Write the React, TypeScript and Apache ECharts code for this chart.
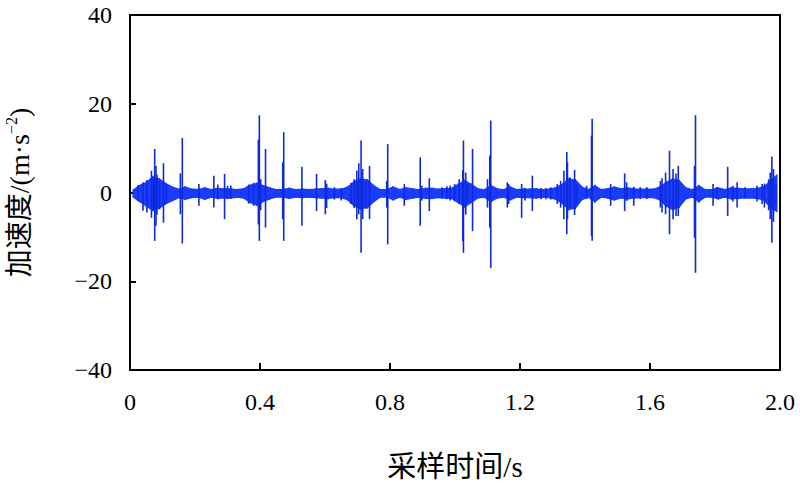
import React, { useEffect, useRef } from 'react';
import * as echarts from 'echarts';

// Envelope of the continuous background vibration, sampled every 0.02 s starting at 0.01 s
const ENV_START = 0.01;
const ENV_STEP = 0.02;
const envHigh = [
  0.5, 1.5, 2.2, 3.5, 3.0, 2.0, 1.2, 0.7, 1.2, 0.7,
  0.6, 1.0, 0.6, 0.9, 0.8, 0.8, 0.6, 0.8, 1.6, 2.0,
  1.5, 1.0, 0.6, 0.6, 0.9, 0.6, 0.7, 0.6, 0.7, 0.8,
  0.9, 0.7, 0.7, 1.2, 2.4, 3.0, 2.8, 1.5, 0.6, 0.6,
  1.2, 0.6, 1.0, 0.8, 0.6, 0.9, 0.9, 0.7, 0.8, 0.9,
  1.8, 2.6, 1.8, 0.8, 0.6, 1.5, 0.8, 0.6, 1.2, 0.6,
  0.7, 0.7, 0.8, 0.6, 0.7, 1.0, 1.8, 3.0, 2.8, 1.2,
  0.6, 1.5, 0.6, 0.8, 1.2, 0.8, 1.0, 0.8, 0.7, 0.7,
  0.7, 1.2, 2.2, 3.0, 2.6, 1.0, 0.6, 1.5, 0.6, 0.6,
  1.0, 0.6, 1.0, 0.9, 0.8, 0.8, 0.9, 1.2, 2.5, 3.8,
];
const envLow = [
  -1.0, -2.0, -3.0, -4.0, -3.5, -2.5, -1.8, -1.1, -1.5, -1.1,
  -1.0, -1.5, -1.0, -1.3, -1.2, -1.2, -1.0, -1.2, -2.2, -2.8,
  -2.0, -1.4, -1.0, -1.0, -1.3, -1.0, -1.1, -1.0, -1.1, -1.2,
  -1.3, -1.1, -1.1, -1.6, -3.0, -3.6, -3.4, -2.0, -1.0, -1.0,
  -1.6, -1.0, -1.5, -1.2, -1.0, -1.3, -1.3, -1.1, -1.2, -1.3,
  -2.2, -3.2, -2.2, -1.2, -1.0, -2.0, -1.2, -1.0, -1.6, -1.0,
  -1.1, -1.1, -1.2, -1.0, -1.1, -1.5, -2.4, -3.8, -3.5, -1.6,
  -1.0, -2.0, -1.0, -1.2, -1.6, -1.2, -1.4, -1.2, -1.1, -1.1,
  -1.1, -1.6, -3.0, -3.8, -3.2, -1.4, -1.0, -2.0, -1.0, -1.0,
  -1.4, -1.0, -1.4, -1.3, -1.2, -1.2, -1.3, -1.6, -3.2, -4.2,
];

// Individual impact spikes: time (s), positive peak, negative peak (m/s²)
const spikeTime = [
  0.025, 0.040, 0.052, 0.066, 0.072, 0.076, 0.080, 0.083, 0.091, 0.103, 0.112,
  0.155, 0.161, 0.212, 0.258, 0.270, 0.291, 0.300, 0.310,
  0.365, 0.380, 0.395, 0.398, 0.402, 0.417, 0.470, 0.473, 0.529, 0.574, 0.601, 0.605, 0.629, 0.650,
  0.680, 0.690, 0.698, 0.704, 0.711, 0.716, 0.726, 0.737, 0.790, 0.793, 0.844, 0.893, 0.898, 0.921,
  0.960, 0.975, 0.985, 0.999,
  1.013, 1.024, 1.026, 1.033, 1.040, 1.054, 1.100, 1.107, 1.110, 1.161, 1.165, 1.205, 1.215, 1.238,
  1.265, 1.280, 1.295, 1.315, 1.325, 1.335, 1.344,
  1.346, 1.354, 1.368, 1.376, 1.405, 1.420, 1.422, 1.479, 1.522, 1.528, 1.550, 1.570, 1.590,
  1.632, 1.637, 1.648, 1.660, 1.671, 1.680,
  1.687, 1.737, 1.740, 1.794, 1.805, 1.839, 1.855, 1.868, 1.893, 1.929, 1.945, 1.952,
  1.965, 1.970, 1.975, 1.980, 1.988,
];
const spikeHigh = [
  1.7, 2.3, 2.8, 4.9, 3.5, 9.8, 6.0, 4.0, 2.6, 6.6, 1.8,
  4.3, 12.3, 1.9, 3.8, 1.8, 4.2, 1.5, 1.6,
  1.8, 2.2, 11.9, 17.4, 3.0, 9.8, 6.8, 13.6, 5.8, 4.2, 2.8, 2.0, 1.2, 1.0,
  2.2, 3.0, 4.9, 6.6, 11.7, 5.3, 2.6, 6.0, 2.6, 10.9, 1.9, 7.9, 1.5, 3.2,
  1.2, 1.4, 1.5, 1.9,
  3.0, 5.0, 11.7, 4.5, 1.9, 9.8, 3.0, 8.3, 16.2, 2.3, 1.9, 1.9, 1.0, 3.8,
  1.0, 1.0, 1.2, 1.9, 2.6, 4.9, 9.1,
  6.8, 3.4, 5.1, 1.9, 1.5, 12.8, 16.6, 1.9, 4.3, 2.3, 1.3, 1.2, 1.2,
  2.6, 3.2, 4.5, 9.4, 5.3, 4.3,
  6.0, 6.0, 17.4, 1.9, 1.2, 5.8, 1.5, 2.3, 1.2, 1.5, 1.9, 2.0,
  3.0, 4.5, 8.1, 5.3, 2.0,
];
const spikeLow = [
  -1.9, -4.1, -4.5, -5.7, -4.0, -10.9, -7.5, -5.0, -3.8, -6.8, -2.6,
  -4.9, -11.5, -3.0, -3.4, -1.5, -6.0, -1.5, -1.4,
  -2.5, -3.0, -7.2, -10.9, -4.0, -7.9, -6.0, -10.9, -7.5, -4.2, -4.9, -3.5, -1.6, -1.8,
  -2.6, -3.5, -6.0, -4.9, -13.6, -6.0, -3.4, -6.0, -3.4, -11.7, -3.0, -7.5, -1.8, -4.2,
  -1.4, -1.5, -1.8, -2.0,
  -2.6, -11.0, -13.6, -5.0, -2.2, -8.7, -3.4, -7.9, -17.0, -3.4, -2.6, -5.7, -1.8, -4.2,
  -1.5, -1.5, -1.6, -2.6, -3.4, -6.0, -9.4,
  -6.0, -3.4, -5.1, -2.6, -1.5, -9.8, -10.9, -3.0, -4.2, -1.9, -3.0, -1.5, -1.5,
  -3.4, -4.5, -4.9, -9.4, -6.0, -5.3,
  -5.3, -10.2, -18.1, -3.0, -1.2, -5.3, -2.0, -3.4, -1.2, -2.0, -2.6, -3.4,
  -4.0, -6.0, -11.3, -6.6, -3.0,
];

const X_MIN = 0;
const X_MAX = 2;
const X_INTERVAL = 0.4;
const Y_MIN = -40;
const Y_MAX = 40;
const Y_INTERVAL = 20;

const FONT = "'Liberation Serif', 'Times New Roman', 'Noto Sans CJK SC', serif";
const BAND_COLOR = '#1a3cff';
const SPIKE_COLOR = '#0f2ad8';

export default function App() {
  const ref = useRef<HTMLDivElement>(null);

  useEffect(() => {
    document.body.style.margin = '0';
    if (!ref.current) return;
    const chart = echarts.init(ref.current, null, { renderer: 'svg' });

    const envData = envHigh.map((h, i) => [ENV_START + ENV_STEP * i, h, envLow[i]]);
    const spikeData = spikeTime.map((t, i) => [t, spikeHigh[i], spikeLow[i]]);

    const option: any = {
      animation: false,
      backgroundColor: '#fff',
      grid: {
        left: 130,
        right: 20,
        top: 15,
        bottom: 119,
        show: true,
        borderColor: '#000',
        borderWidth: 2,
        backgroundColor: 'transparent',
        containLabel: false,
        outerBoundsMode: 'none',
      },
      xAxis: {
        type: 'value',
        min: X_MIN,
        max: X_MAX,
        interval: X_INTERVAL,
        name: '采样时间/s',
        nameLocation: 'middle',
        nameGap: 82,
        nameTextStyle: { fontFamily: FONT, fontSize: 29, color: '#000' },
        axisLine: { show: true, onZero: false, lineStyle: { color: '#000', width: 2 } },
        axisTick: { show: true, inside: true, length: 7, lineStyle: { color: '#000', width: 2 } },
        axisLabel: {
          fontFamily: FONT,
          fontSize: 24,
          color: '#000',
          margin: 20,
          formatter: (v: number) => (v === 0 ? '0' : v.toFixed(1)),
        },
        splitLine: { show: false },
      },
      yAxis: {
        type: 'value',
        min: Y_MIN,
        max: Y_MAX,
        interval: Y_INTERVAL,
        name: '加速度/(m·s{sup|−2})',
        nameLocation: 'middle',
        nameGap: 95,
        nameRotate: 90,
        nameTextStyle: {
          fontFamily: FONT,
          fontSize: 28,
          color: '#000',
          lineHeight: 32,
          rich: {
            sup: { fontFamily: FONT, fontSize: 16, color: '#000', verticalAlign: 'top', lineHeight: 32, padding: [0, 0, 12, 0] },
          },
        },
        axisLine: { show: true, onZero: false, lineStyle: { color: '#000', width: 2 } },
        axisTick: { show: true, inside: true, length: 6, lineStyle: { color: '#000', width: 2 } },
        axisLabel: {
          fontFamily: FONT,
          fontSize: 24,
          color: '#000',
          margin: 18,
          formatter: (v: number) => (v < 0 ? '\u2212' + Math.abs(v) : String(v)),
        },
        splitLine: { show: false },
      },
      series: [
        {
          type: 'custom',
          name: 'band',
          data: envData,
          encode: { x: 0, y: [1, 2] },
          clip: true,
          renderItem: (params: any, api: any) => {
            const i = params.dataIndex;
            if (i >= envData.length - 1) return null;
            const a = envData[i];
            const b = envData[i + 1];
            const p1 = api.coord([a[0], a[1]]);
            const p2 = api.coord([b[0], b[1]]);
            const p3 = api.coord([b[0], b[2]]);
            const p4 = api.coord([a[0], a[2]]);
            return {
              type: 'polygon',
              shape: { points: [p1, p2, p3, p4] },
              style: { fill: BAND_COLOR, stroke: BAND_COLOR, lineWidth: 1.6 },
            };
          },
        },
        {
          type: 'custom',
          name: 'spikes',
          data: spikeData,
          encode: { x: 0, y: [1, 2] },
          clip: true,
          renderItem: (params: any, api: any) => {
            const top = api.coord([api.value(0), api.value(1)]);
            const bot = api.coord([api.value(0), api.value(2)]);
            return {
              type: 'line',
              shape: { x1: top[0], y1: top[1], x2: bot[0], y2: bot[1] },
              style: { stroke: SPIKE_COLOR, lineWidth: 1.6 },
            };
          },
        },
      ],
    };

    chart.setOption(option);
    return () => chart.dispose();
  }, []);

  return <div ref={ref} style={{ width: 800, height: 489 }} />;
}
